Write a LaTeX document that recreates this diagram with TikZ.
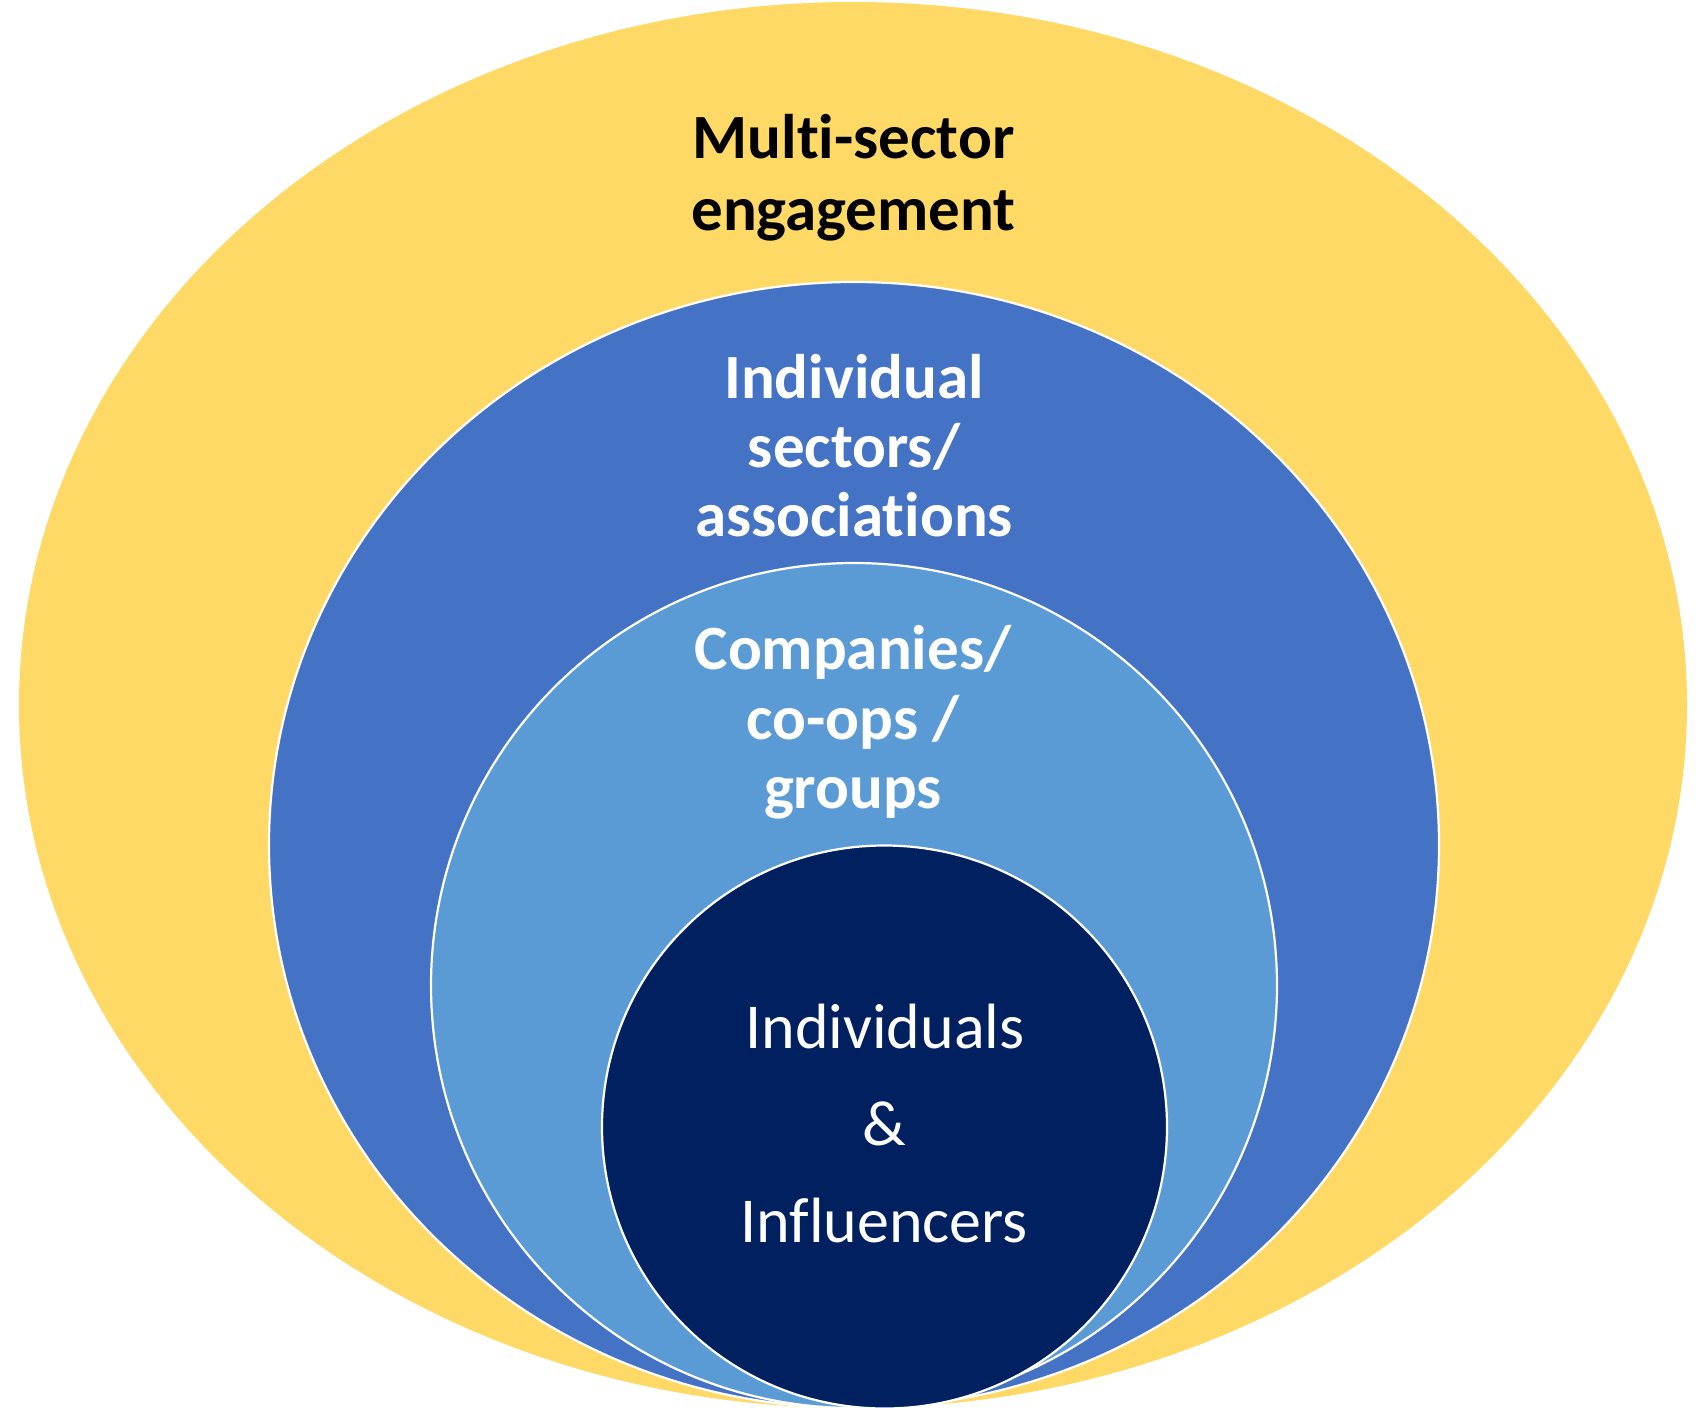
\documentclass[tikz,border=0pt]{standalone}
\usepackage{fontspec}
\setmainfont{Carlito}[Ligatures={NoCommon}]
\definecolor{gold}{HTML}{FFD966}
\definecolor{midblue}{HTML}{4472C4}
\definecolor{lightblue}{HTML}{5B9BD5}
\definecolor{navy}{HTML}{002060}
\tikzset{
  ring/.style={draw=white, line width=2.2pt},
  boldlabel/.style={anchor=base, inner sep=0pt, font=\fontsize{63}{72}\selectfont\bfseries},
  plainlabel/.style={anchor=base, inner sep=0pt, font=\fontsize{64}{72}\selectfont, text=white}
}
\begin{document}
\begin{tikzpicture}[x=1pt,y=-1pt]
\useasboundingbox (0,0) rectangle (1698,1408);
\fill[gold] (853,705) ellipse [x radius=834, y radius=703];
\filldraw[ring, fill=midblue] (854,845) ellipse [x radius=585, y radius=563];
\filldraw[ring, fill=lightblue] (854,985.5) ellipse [x radius=423, y radius=422.5];
\filldraw[ring, fill=navy] (884.5,1127) ellipse [x radius=282.5, y radius=281.5];

\node[boldlabel, text=black] (m1) at (853.5,158) {Multi-sector};
\node[boldlabel, text=black] (m2) at (853.5,230) {engagement};

\node[boldlabel, text=white] (s1) at (854,398) {Individual};
\node[boldlabel, text=white] (s2) at (854,467) {sectors/};
\node[boldlabel, text=white] (s3) at (854,536) {associations};

\node[boldlabel, text=white] (c1) at (853,669) {Companies/};
\node[boldlabel, text=white] (c2) at (853,739) {co-ops /};
\node[boldlabel, text=white] (c3) at (853,808) {groups};

\node[plainlabel] (i1) at (885,1048) {Individuals};
\node[plainlabel] (i2) at (884,1145) {\&};
\node[plainlabel] (i3) at (884,1242) {Influencers};
\end{tikzpicture}
\end{document}
